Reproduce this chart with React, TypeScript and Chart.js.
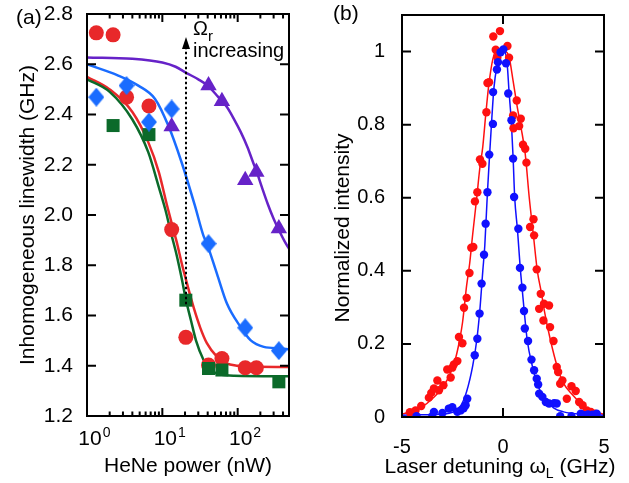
import React, { useEffect, useRef } from 'react';
import { Chart, registerables } from 'chart.js';
Chart.register(...registerables);

const FONT = "'Liberation Sans', Arial, Helvetica, sans-serif";

// ---------------- Panel (a) data ----------------
const redCirclesA: [number, number][] = [
  [1.33, 2.725], [2.22, 2.717], [3.35, 2.469], [6.64, 2.434], [13.3, 1.942],
  [20.5, 1.513], [41, 1.403], [61.8, 1.429], [126, 1.392], [177, 1.392],
];
const blueDiamondsA: [number, number][] = [
  [1.33, 2.469], [3.35, 2.515], [6.64, 2.37], [13.3, 2.422], [41, 1.886], [126, 1.551], [352, 1.46],
];
const greenSquaresA: [number, number][] = [
  [2.22, 2.356], [6.64, 2.32], [20.5, 1.661], [41, 1.389], [61.8, 1.383], [352, 1.336],
];
const purpleTrianglesA: [number, number][] = [
  [13.3, 2.352], [41, 2.515], [61.8, 2.453], [126, 2.138], [177, 2.171], [352, 1.946],
];
const redFitA: [number, number][] = [
  [1, 2.55], [2, 2.5], [4, 2.41], [6.5, 2.29], [9, 2.17], [11.5, 2.04], [13.5, 1.96], [15.6, 1.89],
  [18, 1.81], [20.7, 1.74], [25.9, 1.634], [32, 1.55], [39, 1.49], [53, 1.436], [70, 1.41],
  [100, 1.4], [150, 1.397], [480, 1.395],
];
const greenFitA: [number, number][] = [
  [1, 2.54], [2, 2.49], [4, 2.38], [6.5, 2.25], [9, 2.11], [11, 2.02], [13, 1.93], [15.5, 1.84],
  [18, 1.75], [20.5, 1.665], [24, 1.58], [28, 1.5], [35, 1.425], [45, 1.38], [60, 1.365],
  [90, 1.36], [480, 1.358],
];
const blueFitA: [number, number][] = [
  [1, 2.6], [2.6, 2.555], [4.8, 2.515], [8, 2.462], [12, 2.356], [18, 2.21], [27, 2.038],
  [35, 1.919], [39, 1.886], [53, 1.767], [72, 1.648], [109, 1.555], [148, 1.502], [222, 1.475],
  [371, 1.469], [480, 1.466],
];
const purpleFitA: [number, number][] = [
  [1, 2.627], [4, 2.622], [10, 2.607], [15, 2.59], [21, 2.565], [30, 2.54], [40, 2.515],
  [55, 2.47], [72, 2.43], [90, 2.38], [110, 2.33], [135, 2.27], [160, 2.21], [180, 2.17],
  [210, 2.11], [250, 2.045], [300, 1.985], [352, 1.94], [420, 1.895], [480, 1.866],
];
const yTicksA = [1.2, 1.4, 1.6, 1.8, 2.0, 2.2, 2.4, 2.6, 2.8];
const xMajorA = [1, 10, 100];
const xMajorExpA = ['0', '1', '2'];
const xMinorA = [2, 3, 4, 5, 6, 7, 8, 9, 20, 30, 40, 50, 60, 70, 80, 90, 200, 300, 400];
const arrowA = { x: 20.5, from: 1.645, to: 2.665, tip: 2.708 };

// ---------------- Panel (b) data ----------------
const redPointsB: [number, number][] = [
  [-4.61, 0.013], [-4.33, 0.018], [-4.05, 0.03], [-3.67, 0.053], [-3.55, 0.066], [-3.42, 0.078],
  [-3.25, 0.1], [-3.17, 0.073], [-2.95, 0.087], [-2.76, 0.13], [-2.59, 0.108], [-2.51, 0.135],
  [-2.43, 0.144], [-2.26, 0.153], [-2.18, 0.219], [-2.01, 0.202], [-1.93, 0.299], [-1.8, 0.326],
  [-1.66, 0.394], [-1.57, 0.463], [-1.47, 0.465], [-1.39, 0.59], [-1.27, 0.615], [-1.14, 0.705],
  [-1.02, 0.693], [-0.82, 0.834], [-0.77, 0.914], [-0.69, 0.916], [-0.48, 1.041], [-0.36, 1.005],
  [-0.28, 0.984], [-0.15, 1.056], [0.22, 1.015], [0.3, 0.983], [0.5, 0.825], [0.52, 0.79],
  [0.68, 0.866], [0.8, 0.796], [0.88, 0.816], [0.99, 0.745], [1.1, 0.734], [1.16, 0.696],
  [1.34, 0.52], [1.51, 0.541], [1.54, 0.497], [1.67, 0.404], [1.87, 0.337], [1.79, 0.296],
  [2.03, 0.31], [2.28, 0.305], [2.0, 0.264], [2.33, 0.246], [2.5, 0.208], [2.66, 0.137],
  [2.73, 0.123], [2.94, 0.1], [2.83, 0.091], [3.39, 0.084], [3.6, 0.071], [3.16, 0.05],
  [3.77, 0.041], [3.94, 0.032], [4.15, 0.018], [4.35, 0.014], [4.55, 0.009],
];
const bluePointsB: [number, number][] = [
  [-4.28, 0.002], [-3.5, 0.002], [-3.42, 0.014], [-3.0, 0.011], [-2.68, 0.023], [-2.51, 0.027],
  [-2.26, 0.014], [-2.1, 0.018], [-1.95, 0.024], [-1.85, 0.032], [-1.77, 0.05], [-1.4, 0.169],
  [-1.27, 0.214], [-1.16, 0.283], [-1.06, 0.365], [-0.94, 0.444], [-0.86, 0.529], [-0.77, 0.615],
  [-0.68, 0.718], [-0.5, 0.802], [-0.49, 0.889], [-0.3, 0.951], [-0.25, 0.971], [-0.12, 0.998],
  [0.02, 1.006], [0.15, 0.968], [0.26, 0.885], [0.42, 0.812], [0.5, 0.707], [0.55, 0.602],
  [0.76, 0.515], [0.84, 0.408], [0.96, 0.354], [1.04, 0.29], [1.08, 0.242], [1.24, 0.208],
  [1.41, 0.157], [1.54, 0.128], [1.67, 0.105], [1.74, 0.089], [1.79, 0.064], [1.95, 0.055],
  [2.12, 0.041], [2.28, 0.037], [2.53, 0.038], [2.66, 0.037], [2.83, 0.002], [3.39, 0.002],
  [3.85, 0.009], [4.02, 0.005], [4.21, 0.007], [4.43, 0.006], [4.64, 0.009],
];
const redFitB: [number, number][] = [
  [-5, 0.008], [-4.5, 0.016], [-4, 0.028], [-3.5, 0.05], [-3, 0.08], [-2.6, 0.12], [-2.35, 0.16],
  [-2.15, 0.21], [-2, 0.26], [-1.8, 0.36], [-1.65, 0.42], [-1.5, 0.5], [-1.3, 0.6], [-1.15, 0.68],
  [-1.0, 0.74], [-0.85, 0.83], [-0.7, 0.91], [-0.5, 0.98], [-0.3, 1.005], [-0.1, 1.0], [0.1, 1.0],
  [0.3, 0.985], [0.5, 0.92], [0.7, 0.85], [0.9, 0.79], [1.1, 0.72], [1.3, 0.6], [1.5, 0.5],
  [1.7, 0.4], [1.9, 0.34], [2.05, 0.29], [2.35, 0.21], [2.7, 0.135], [3.0, 0.092], [3.45, 0.06],
  [3.85, 0.037], [4.35, 0.018], [5, 0.007],
];
const blueFitB: [number, number][] = [
  [-5, 0.005], [-4, 0.006], [-3, 0.008], [-2.5, 0.013], [-2.1, 0.03], [-1.8, 0.07], [-1.5, 0.14],
  [-1.3, 0.21], [-1.15, 0.29], [-1.0, 0.4], [-0.9, 0.47], [-0.77, 0.615], [-0.66, 0.72],
  [-0.55, 0.82], [-0.45, 0.9], [-0.3, 0.96], [-0.1, 1.0], [0.05, 1.0], [0.2, 0.97], [0.3, 0.89],
  [0.42, 0.8], [0.5, 0.71], [0.58, 0.6], [0.72, 0.51], [0.85, 0.41], [0.95, 0.35], [1.05, 0.29],
  [1.2, 0.21], [1.45, 0.14], [1.7, 0.09], [2.0, 0.055], [2.5, 0.025], [3, 0.014], [4, 0.007],
  [5, 0.005],
];
const yTicksB = [0, 0.2, 0.4, 0.6, 0.8, 1];
const xTicksB = [-5, 0, 5];

// ---------------- styles ----------------
const RED_A = '#e8282a';
const BLUE_A = '#1a6cff';
const GREEN_A = '#0b6a2a';
const PURPLE_A = '#6622c8';
const RED_B = '#ff1010';
const BLUE_B = '#1010ff';

const toXY = (arr: [number, number][]) => arr.map(([x, y]) => ({ x, y }));

function makeDiamond(color: string, w: number, h: number) {
  const c = document.createElement('canvas');
  c.width = w;
  c.height = h;
  const g = c.getContext('2d')!;
  g.fillStyle = color;
  g.beginPath();
  g.moveTo(w / 2, 0);
  g.lineTo(w, h / 2);
  g.lineTo(w / 2, h);
  g.lineTo(0, h / 2);
  g.closePath();
  g.fill();
  return c;
}

const plugA = {
  id: 'decorA',
  afterDatasetsDraw(chart: any) {
    const { ctx, chartArea: ca, scales } = chart;
    const x = scales.x, y = scales.y;
    ctx.save();
    ctx.strokeStyle = '#000';
    ctx.fillStyle = '#000';
    ctx.lineWidth = 2;
    ctx.strokeRect(ca.left, ca.top, ca.right - ca.left, ca.bottom - ca.top);
    ctx.beginPath();
    yTicksA.forEach((v) => {
      const py = y.getPixelForValue(v);
      ctx.moveTo(ca.left, py); ctx.lineTo(ca.left + 9, py);
      ctx.moveTo(ca.right, py); ctx.lineTo(ca.right - 9, py);
    });
    xMajorA.forEach((v) => {
      const px = x.getPixelForValue(v);
      ctx.moveTo(px, ca.bottom); ctx.lineTo(px, ca.bottom - 8);
      ctx.moveTo(px, ca.top); ctx.lineTo(px, ca.top + 8);
    });
    xMinorA.forEach((v) => {
      const px = x.getPixelForValue(v);
      ctx.moveTo(px, ca.bottom); ctx.lineTo(px, ca.bottom - 4.5);
      ctx.moveTo(px, ca.top); ctx.lineTo(px, ca.top + 4.5);
    });
    ctx.stroke();

    // dotted arrow
    const ax = Math.round(x.getPixelForValue(arrowA.x));
    const yFrom = y.getPixelForValue(arrowA.from);
    const yTo = y.getPixelForValue(arrowA.to);
    const yTip = y.getPixelForValue(arrowA.tip);
    ctx.setLineDash([2.5, 2.5]);
    ctx.beginPath();
    ctx.moveTo(ax, yFrom);
    ctx.lineTo(ax, yTo);
    ctx.stroke();
    ctx.setLineDash([]);
    ctx.beginPath();
    ctx.moveTo(ax, yTip);
    ctx.lineTo(ax - 4, yTo + 1);
    ctx.lineTo(ax + 4, yTo + 1);
    ctx.closePath();
    ctx.fill();

    // annotation text
    ctx.textAlign = 'left';
    ctx.textBaseline = 'alphabetic';
    ctx.font = `20px ${FONT}`;
    ctx.fillText('Ω', ax + 7, 35);
    const ow = ctx.measureText('Ω').width;
    ctx.font = `15px ${FONT}`;
    ctx.fillText('r', ax + 7 + ow, 41);
    ctx.font = `20px ${FONT}`;
    ctx.fillText('increasing', ax + 7, 57);

    // x tick labels 10^n
    xMajorA.forEach((v, i) => {
      const px = x.getPixelForValue(v);
      ctx.font = `21px ${FONT}`;
      ctx.textAlign = 'center';
      ctx.fillText('10', px + 3, ca.bottom + 29);
      const w = ctx.measureText('10').width;
      ctx.font = `14px ${FONT}`;
      ctx.textAlign = 'left';
      ctx.fillText(xMajorExpA[i], px + 3 + w / 2 + 1, ca.bottom + 21);
    });

    // axis titles
    ctx.font = `21px ${FONT}`;
    ctx.textAlign = 'center';
    ctx.fillText('HeNe power (nW)', (ca.left + ca.right) / 2, 472);
    ctx.save();
    ctx.translate(33.5, (ca.top + ca.bottom) / 2);
    ctx.rotate(-Math.PI / 2);
    ctx.fillText('Inhomogeneous linewidth (GHz)', 0, 0);
    ctx.restore();

    // panel label
    ctx.textAlign = 'left';
    ctx.fillText('(a)', 16, 24);
    ctx.restore();
  },
};

const plugB = {
  id: 'decorB',
  afterDatasetsDraw(chart: any) {
    const { ctx, chartArea: ca, scales } = chart;
    const x = scales.x, y = scales.y;
    ctx.save();
    ctx.strokeStyle = '#000';
    ctx.fillStyle = '#000';
    ctx.lineWidth = 2;
    ctx.strokeRect(ca.left, ca.top, ca.right - ca.left, ca.bottom - ca.top);
    ctx.beginPath();
    yTicksB.forEach((v) => {
      const py = y.getPixelForValue(v);
      ctx.moveTo(ca.left, py); ctx.lineTo(ca.left + 9, py);
      ctx.moveTo(ca.right, py); ctx.lineTo(ca.right - 9, py);
    });
    xTicksB.forEach((v) => {
      const px = x.getPixelForValue(v);
      ctx.moveTo(px, ca.bottom); ctx.lineTo(px, ca.bottom - 9);
      ctx.moveTo(px, ca.top); ctx.lineTo(px, ca.top + 9);
    });
    ctx.stroke();

    // x title with subscript
    const base = 473;
    ctx.textBaseline = 'alphabetic';
    ctx.textAlign = 'left';
    ctx.font = `21px ${FONT}`;
    const p1 = 'Laser detuning ω';
    const p3 = ' (GHz)';
    const w1 = ctx.measureText(p1).width;
    const w3 = ctx.measureText(p3).width;
    ctx.font = `14px ${FONT}`;
    const w2 = ctx.measureText('L').width;
    const total = w1 + w2 + w3;
    let sx = (ca.left + ca.right) / 2 - 3 - total / 2;
    ctx.font = `21px ${FONT}`;
    ctx.fillText(p1, sx, base);
    ctx.font = `14px ${FONT}`;
    ctx.fillText('L', sx + w1, base + 5);
    ctx.font = `21px ${FONT}`;
    ctx.fillText(p3, sx + w1 + w2, base);

    // y title
    ctx.save();
    ctx.translate(28.6, (ca.top + ca.bottom) / 2 + 12);
    ctx.rotate(-Math.PI / 2);
    ctx.textAlign = 'center';
    ctx.fillText('Normalized intensity', 0, 0);
    ctx.restore();

    ctx.textAlign = 'left';
    ctx.fillText('(b)', 13, 20);
    ctx.restore();
  },
};

export default function App() {
  const refA = useRef<HTMLCanvasElement>(null);
  const refB = useRef<HTMLCanvasElement>(null);

  useEffect(() => {
    Chart.defaults.font.family = FONT;
    Chart.defaults.color = '#000';
    const diamond = makeDiamond(BLUE_A, 16, 19);

    const lineDs = (data: [number, number][], color: string, width: number, order: number) => ({
      type: 'line' as const,
      data: toXY(data),
      borderColor: color,
      borderWidth: width,
      pointRadius: 0,
      showLine: true,
      fill: false,
      cubicInterpolationMode: 'monotone' as const,
      order,
    });
    const pointDs = (data: [number, number][], color: string, style: any, radius: number, order: number) => ({
      type: 'scatter' as const,
      data: toXY(data),
      backgroundColor: color,
      borderColor: color,
      borderWidth: 0,
      pointStyle: style,
      pointRadius: radius,
      pointHoverRadius: radius,
      showLine: false,
      order,
    });

    const chartA = new Chart(refA.current!, {
      type: 'scatter',
      data: {
        datasets: [
          pointDs(purpleTrianglesA, PURPLE_A, 'triangle', 9.5, 1),
          pointDs(blueDiamondsA, BLUE_A, diamond, 9, 2),
          pointDs(greenSquaresA, GREEN_A, 'rect', 9.2, 3),
          pointDs(redCirclesA, RED_A, 'circle', 7.5, 4),
          lineDs(purpleFitA, PURPLE_A, 2.5, 5),
          lineDs(blueFitA, BLUE_A, 2.5, 6),
          lineDs(greenFitA, GREEN_A, 2.5, 7),
          lineDs(redFitA, RED_A, 2.5, 8),
        ] as any,
      },
      options: {
        responsive: false,
        animation: false,
        events: [],
        layout: { padding: { left: 0, right: 31, top: 14, bottom: 0 } },
        plugins: { legend: { display: false }, tooltip: { enabled: false } },
        scales: {
          x: {
            type: 'logarithmic',
            min: 1,
            max: 480,
            grid: { display: false },
            border: { display: false },
            ticks: { display: false },
            afterFit: (s: any) => { s.height = 67; s.paddingLeft = 0; s.paddingRight = 0; },
          },
          y: {
            type: 'linear',
            min: 1.2,
            max: 2.8,
            grid: { display: false },
            border: { display: false },
            ticks: {
              font: { size: 21, family: FONT },
              color: '#000',
              padding: 6,
              callback: (v: any) => Number(v).toFixed(1),
            },
            afterBuildTicks: (s: any) => { s.ticks = yTicksA.map((v) => ({ value: v })); },
            afterFit: (s: any) => { s.width = 87; s.paddingTop = 0; s.paddingBottom = 0; },
          },
        },
      } as any,
      plugins: [plugA],
    });

    const chartB = new Chart(refB.current!, {
      type: 'scatter',
      data: {
        datasets: [
          pointDs(bluePointsB, BLUE_B, 'circle', 4.2, 1),
          pointDs(redPointsB, RED_B, 'circle', 4.2, 2),
          lineDs(blueFitB, BLUE_B, 1.5, 3),
          lineDs(redFitB, RED_B, 1.5, 4),
        ] as any,
      },
      options: {
        responsive: false,
        animation: false,
        events: [],
        layout: { padding: { left: 0, right: 25, top: 15, bottom: 0 } },
        plugins: { legend: { display: false }, tooltip: { enabled: false } },
        scales: {
          x: {
            type: 'linear',
            min: -5,
            max: 5,
            grid: { display: false },
            border: { display: false },
            ticks: { font: { size: 20, family: FONT }, color: '#000', padding: 10, callback: (v: any) => String(v) },
            afterBuildTicks: (s: any) => { s.ticks = xTicksB.map((v) => ({ value: v })); },
            afterFit: (s: any) => { s.height = 66; s.paddingLeft = 0; s.paddingRight = 0; },
          },
          y: {
            type: 'linear',
            min: 0,
            max: 1.1,
            grid: { display: false },
            border: { display: false },
            ticks: { font: { size: 20, family: FONT }, color: '#000', padding: 9, callback: (v: any) => String(v) },
            afterBuildTicks: (s: any) => { s.ticks = yTicksB.map((v) => ({ value: v })); },
            afterFit: (s: any) => { s.width = 82; s.paddingTop = 0; s.paddingBottom = 0; },
          },
        },
      } as any,
      plugins: [plugB],
    });

    return () => {
      chartA.destroy();
      chartB.destroy();
    };
  }, []);

  return (
    <div style={{ position: 'fixed', left: 0, top: 0, width: 629, height: 483, background: '#fff' }}>
      <canvas ref={refA} width={320} height={483} style={{ position: 'absolute', left: 0, top: 0 }} />
      <canvas ref={refB} width={309} height={483} style={{ position: 'absolute', left: 320, top: 0 }} />
    </div>
  );
}
